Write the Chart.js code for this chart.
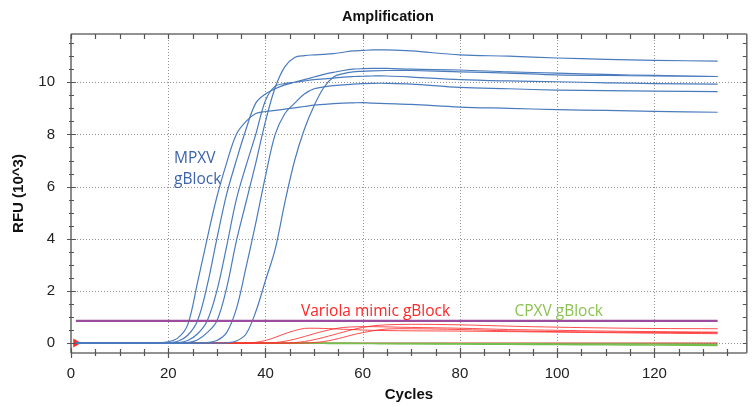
<!DOCTYPE html>
<html>
<head>
<meta charset="utf-8">
<title>Amplification</title>
<script src="https://cdn.jsdelivr.net/npm/chart.js@4.4.1/dist/chart.umd.min.js"></script>
<style>
  html, body { margin: 0; padding: 0; background: #fff; }
  #wrap { width: 752px; height: 407px; }
</style>
</head>
<body>
<div id="wrap"><canvas id="ampChart" width="752" height="407"></canvas></div>
<script>
const cycles = [1, 5, 10, 15, 18, 20, 22, 24, 26, 28, 30, 32, 34, 36, 38, 40, 42, 44, 46, 48,
                50, 52, 54, 56, 58, 60, 62, 65, 70, 80, 90, 100, 110, 120, 133];

// MPXV gBlock (RFU x 10^3)
const mpxv1 = [0, 0, 0, 0, 0.01, 0.05, 0.2, 0.7, 2.3, 4.0, 5.6, 6.9, 8.0, 8.5, 8.8, 8.88, 8.92, 8.97, 9.02, 9.07,
               9.12, 9.15, 9.18, 9.2, 9.21, 9.22, 9.2, 9.18, 9.15, 9.05, 9.0, 8.95, 8.92, 8.88, 8.85];
const mpxv2 = [0, 0, 0, 0, 0, 0.01, 0.07, 0.3, 0.85, 2.2, 4.0, 5.7, 7.0, 8.2, 9.2, 9.55, 9.75, 9.9, 10.0, 10.1,
               10.2, 10.3, 10.38, 10.45, 10.5, 10.52, 10.53, 10.53, 10.5, 10.47, 10.4, 10.35, 10.3, 10.26, 10.22];
const mpxv3 = [0, 0, 0, 0, 0, 0, 0.01, 0.1, 0.35, 0.85, 2.0, 3.7, 5.5, 6.8, 8.0, 9.3, 9.85, 9.95, 10.0, 10.05,
               10.1, 10.13, 10.16, 10.2, 10.22, 10.23, 10.24, 10.24, 10.2, 10.1, 10.05, 10.02, 9.98, 9.95, 9.93];
const mpxv4 = [0, 0, 0, 0, 0, 0, 0, 0.02, 0.12, 0.4, 0.85, 2.1, 3.9, 5.4, 6.9, 8.5, 9.8, 10.6, 10.95, 11.02,
               11.05, 11.07, 11.1, 11.15, 11.2, 11.22, 11.24, 11.24, 11.2, 11.05, 11.0, 10.93, 10.88, 10.84, 10.81];
const mpxv5 = [0, 0, 0, 0, 0, 0, 0, 0, 0, 0.02, 0.1, 0.4, 1.3, 2.9, 4.6, 6.4, 8.0, 8.8, 9.2, 9.55,
               9.75, 9.82, 9.87, 9.9, 9.93, 9.95, 9.96, 9.96, 9.93, 9.8, 9.75, 9.7, 9.68, 9.66, 9.64];
const mpxv6 = [0, 0, 0, 0, 0, 0, 0, 0, 0, 0, 0, 0.01, 0.08, 0.35, 1.2, 2.4, 3.6, 5.4, 7.0, 8.2,
               9.1, 9.8, 10.2, 10.33, 10.4, 10.42, 10.44, 10.45, 10.45, 10.4, 10.35, 10.28, 10.26, 10.24, 10.22];

// Variola mimic gBlock
const var0 = [0, 0, 0, 0, 0, 0, 0, 0, 0, 0, 0, 0, 0, 0, 0, 0, 0, 0, 0, 0,
              0, 0, 0, 0, 0, 0, 0, 0, 0, 0, 0, 0, 0, 0, 0];
const var1 = [0, 0, 0, 0, 0, 0, 0, 0, 0, 0, 0, 0, 0, 0, 0.03, 0.1, 0.22, 0.36, 0.48, 0.56,
              0.57, 0.56, 0.55, 0.53, 0.52, 0.5, 0.49, 0.48, 0.47, 0.46, 0.44, 0.42, 0.4, 0.38, 0.36];
const var2 = [0, 0, 0, 0, 0, 0, 0, 0, 0, 0, 0, 0, 0, 0, 0, 0, 0.02, 0.07, 0.15, 0.25,
              0.36, 0.46, 0.54, 0.6, 0.62, 0.63, 0.63, 0.62, 0.6, 0.57, 0.52, 0.49, 0.46, 0.44, 0.42];
const var3 = [0, 0, 0, 0, 0, 0, 0, 0, 0, 0, 0, 0, 0, 0, 0, 0, 0, 0, 0.02, 0.06,
              0.13, 0.22, 0.32, 0.42, 0.52, 0.6, 0.66, 0.7, 0.72, 0.7, 0.65, 0.61, 0.58, 0.56, 0.55];
const var4 = [0, 0, 0, 0, 0, 0, 0, 0, 0, 0, 0, 0, 0, 0, 0, 0, 0, 0, 0, 0,
              0.02, 0.06, 0.13, 0.22, 0.32, 0.4, 0.47, 0.54, 0.55, 0.52, 0.47, 0.44, 0.42, 0.41, 0.4];

// CPXV gBlock
const cpxv1 = [0, 0, 0, 0, 0, 0, 0, 0, 0, 0, 0, 0, 0, 0, 0, 0, 0, 0, 0, -0.005,
               -0.01, -0.012, -0.015, -0.017, -0.019, -0.02, -0.022, -0.025, -0.03, -0.04, -0.05, -0.06, -0.07, -0.08, -0.09];
const cpxv2 = [0, 0, 0, 0, 0, 0, 0, 0, 0, 0, 0, 0, 0, 0, 0, 0, 0, 0, 0, 0,
               0, 0, -0.005, -0.006, -0.008, -0.01, -0.011, -0.012, -0.015, -0.02, -0.025, -0.03, -0.035, -0.04, -0.05];

// threshold line
const thresholdCycles = [1, 133];
const thresholdValue = 0.85;

// axis ranges and tick labels
const xMin = 0, xMax = 139, xStep = 5, xLabelEvery = 20;
const yMin = -0.38, yMax = 11.85, yStep = 0.5, yLabelEvery = 2;

const annotations = [
  { text: 'MPXV', x: 21.2, y: 6.91, color: '#3d63aa' },
  { text: 'gBlock', x: 21.2, y: 6.10, color: '#3d63aa' },
  { text: 'Variola mimic gBlock', x: 47.3, y: 1.05, color: '#ff2626' },
  { text: 'CPXV gBlock', x: 91.2, y: 1.05, color: '#8cc353' }
];

const BLUE = '#4a7bbd';
const RED = 'rgba(255, 45, 45, 0.85)';
const GREEN = '#72bf4e';
const LABEL_FONT = "'Liberation Sans', Arial, sans-serif";

const pts = vals => vals.map((v, i) => ({ x: cycles[i], y: v }));
const line = (vals, color, width) => ({
  data: pts(vals), borderColor: color, borderWidth: width, pointRadius: 0, fill: false
});

const isMajorY = v => Math.abs(v / yLabelEvery - Math.round(v / yLabelEvery)) < 1e-6;

const frame = {
  id: 'frame',
  beforeDatasetsDraw(chart) {
    const { ctx, chartArea: a, scales: { x, y } } = chart;
    ctx.save();
    ctx.strokeStyle = '#939393';
    ctx.lineWidth = 1;
    ctx.setLineDash([1, 2]);
    ctx.beginPath();
    x.ticks.forEach(t => {
      if (t.value > xMin && t.value % xLabelEvery === 0) {
        const px = Math.round(x.getPixelForValue(t.value)) + 0.5;
        ctx.moveTo(px, a.top); ctx.lineTo(px, a.bottom);
      }
    });
    y.ticks.forEach(t => {
      if (isMajorY(t.value)) {
        const py = Math.round(y.getPixelForValue(t.value)) + 0.5;
        ctx.moveTo(a.left, py); ctx.lineTo(a.right, py);
      }
    });
    ctx.stroke();
    ctx.restore();
  },
  afterDatasetsDraw(chart) {
    const { ctx, chartArea: a, scales: { x, y } } = chart;
    ctx.save();
    // frame
    ctx.strokeStyle = '#6f6f6f';
    ctx.lineWidth = 1.6;
    ctx.beginPath();
    ctx.moveTo(a.left, a.top); ctx.lineTo(a.right, a.top);
    ctx.moveTo(a.left, a.top); ctx.lineTo(a.left, a.bottom);
    ctx.moveTo(a.left, a.bottom); ctx.lineTo(a.right, a.bottom);
    ctx.moveTo(a.right, a.top); ctx.lineTo(a.right, a.bottom);
    ctx.stroke();
    // tick marks
    ctx.lineWidth = 1.2;
    ctx.strokeStyle = '#555';
    ctx.beginPath();
    x.ticks.forEach(t => {
      const px = Math.round(x.getPixelForValue(t.value)) + 0.5;
      const major = t.value % xLabelEvery === 0;
      ctx.moveTo(px, a.bottom - (major ? 5 : 4)); ctx.lineTo(px, a.bottom + (major ? 5 : 3));
      ctx.moveTo(px, a.top); ctx.lineTo(px, a.top + 5);
    });
    y.ticks.forEach(t => {
      const py = Math.round(y.getPixelForValue(t.value)) + 0.5;
      const major = isMajorY(t.value);
      ctx.moveTo(a.left - (major ? 4 : 2), py); ctx.lineTo(a.left + (major ? 5 : 3), py);
      ctx.moveTo(a.right - 4, py); ctx.lineTo(a.right, py);
    });
    ctx.stroke();
    // annotations
    ctx.font = "15.5px 'Open Sans', 'Noto Sans', sans-serif";
    ctx.textAlign = 'left';
    ctx.textBaseline = 'alphabetic';
    annotations.forEach(n => {
      ctx.fillStyle = n.color;
      ctx.fillText(n.text, x.getPixelForValue(n.x), y.getPixelForValue(n.y));
    });
    // chart title
    ctx.font = "bold 14.5px " + LABEL_FONT;
    ctx.fillStyle = '#111';
    ctx.textAlign = 'center';
    ctx.textBaseline = 'middle';
    ctx.fillText('Amplification', (a.left + a.right) / 2 - 21, 17);
    ctx.restore();
  }
};

const ctxAmp = document.getElementById('ampChart').getContext('2d');
const ampChart = new Chart(ctxAmp, {
  type: 'line',
  data: {
    datasets: [
      { data: thresholdCycles.map(c => ({ x: c, y: thresholdValue })), borderColor: '#9b4c9f', borderWidth: 2.4, pointRadius: 0, tension: 0 },
      line(mpxv1, BLUE, 1.2),
      line(mpxv2, BLUE, 1.2),
      line(mpxv3, BLUE, 1.2),
      line(mpxv4, BLUE, 1.2),
      line(mpxv5, BLUE, 1.2),
      line(mpxv6, BLUE, 1.2),
      line(var1, RED, 1),
      line(var2, RED, 1),
      line(var3, RED, 1),
      line(var4, RED, 1),
      line(cpxv1, GREEN, 1.4),
      line(cpxv2, GREEN, 1.4),
      Object.assign(line(var0, 'rgba(200, 40, 30, 0.9)', 1.2), {
        pointRadius: ctx => ctx.dataIndex === 0 ? 4 : 0,
        pointStyle: 'triangle',
        rotation: 90,
        pointBackgroundColor: '#ff2a2a',
        pointBorderColor: '#ff2a2a'
      })
    ]
  },
  options: {
    responsive: false,
    animation: false,
    devicePixelRatio: 1,
    layout: { padding: { top: 34, right: 1, left: 0, bottom: 0 } },
    elements: { line: { cubicInterpolationMode: 'default', tension: 0.35 } },
    plugins: {
      legend: { display: false },
      tooltip: { enabled: false },
      title: { display: false }
    },
    scales: {
      x: {
        type: 'linear',
        min: xMin,
        max: xMax,
        afterFit: s => { s.height = 54; },
        grid: { display: false, drawTicks: false },
        border: { display: false },
        ticks: {
          stepSize: xStep, includeBounds: false, autoSkip: false, maxRotation: 0, maxTicksLimit: 100,
          padding: 12, color: '#222', font: { family: LABEL_FONT, size: 15 },
          callback: v => v % xLabelEvery === 0 ? String(v) : ''
        },
        title: {
          display: true, text: 'Cycles', color: '#111',
          font: { family: LABEL_FONT, size: 15, weight: 'bold' },
          padding: { top: 0, bottom: 3.5 }
        }
      },
      y: {
        type: 'linear',
        min: yMin,
        max: yMax,
        afterFit: s => { s.width = 71; },
        grid: { display: false, drawTicks: false },
        border: { display: false },
        ticks: {
          stepSize: yStep, includeBounds: false, autoSkip: false, maxTicksLimit: 100,
          padding: 16, color: '#222', font: { family: LABEL_FONT, size: 15 },
          callback: v => isMajorY(v) ? String(Math.round(v)) : ''
        },
        title: {
          display: true, text: 'RFU (10^3)', color: '#111',
          font: { family: LABEL_FONT, size: 15, weight: 'bold' },
          padding: { top: 9.5, bottom: 0 }
        }
      }
    }
  },
  plugins: [frame]
});
</script>
</body>
</html>
